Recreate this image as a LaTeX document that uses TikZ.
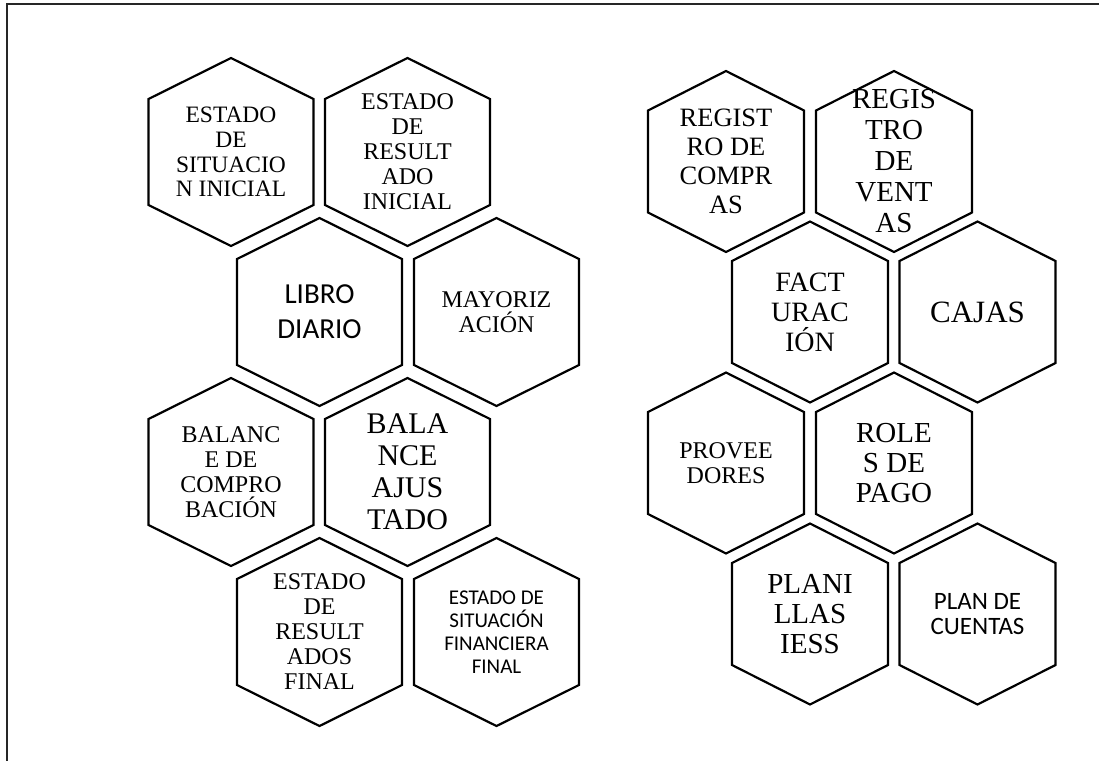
\documentclass[tikz,border=0pt]{standalone}
\usepackage{fontspec}
\setmainfont{Liberation Serif}
\newfontfamily\tnr{Liberation Serif}
\newfontfamily\cbr{Carlito}
\tikzset{
  hexline/.style={draw=black, line width=2.2pt, line join=miter},
  hextext/.style={align=center, inner sep=0pt, text=black},
}
% big hexagon (left block): half width 82.5, corner offset 53, half height 94
\newcommand{\hexA}[1]{%
  \draw[hexline] ([shift={(0,-94)}]#1.center) -- ([shift={(82.5,-53)}]#1.center)
    -- ([shift={(82.5,53)}]#1.center) -- ([shift={(0,94)}]#1.center)
    -- ([shift={(-82.5,53)}]#1.center) -- ([shift={(-82.5,-53)}]#1.center) -- cycle;}
% small hexagon (right block): half width 78, corner offset 51, half height 90.5
\newcommand{\hexB}[1]{%
  \draw[hexline] ([shift={(0,-90.5)}]#1.center) -- ([shift={(78,-51)}]#1.center)
    -- ([shift={(78,51)}]#1.center) -- ([shift={(0,90.5)}]#1.center)
    -- ([shift={(-78,51)}]#1.center) -- ([shift={(-78,-51)}]#1.center) -- cycle;}
\begin{document}
\begin{tikzpicture}[x=1pt,y=-1pt]
\useasboundingbox (0,0) rectangle (1099,760);
\draw[line width=1.4pt, draw=black!85] (7,4) rectangle (1120,790);

% left block
\node[hextext, font={\tnr\fontsize{23.5}{24.8}\selectfont}] (esi) at (231,152) {ESTADO\\DE\\SITUACIO\\N INICIAL};
\node[hextext, font={\tnr\fontsize{24}{25}\selectfont}] (eri) at (407.5,152) {ESTADO\\DE\\RESULT\\ADO\\INICIAL};
\node[hextext, font={\cbr\fontsize{29}{35}\selectfont}] (ld) at (319.5,312) {LIBRO\\DIARIO};
\node[hextext, font={\tnr\fontsize{24}{24.5}\selectfont}] (may) at (496.5,312) {MAYORIZ\\ACIÓN};
\node[hextext, font={\tnr\fontsize{24}{25}\selectfont}] (bc) at (231,472) {BALANC\\E DE\\COMPRO\\BACIÓN};
\node[hextext, font={\tnr\fontsize{30}{32}\selectfont}] (ba) at (407.5,472) {BALA\\NCE\\AJUS\\TADO};
\node[hextext, font={\tnr\fontsize{24}{25}\selectfont}] (erf) at (319.5,632) {ESTADO\\DE\\RESULT\\ADOS\\FINAL};
\node[hextext, font={\cbr\fontsize{21}{23}\selectfont}] (esf) at (496.5,632) {ESTADO DE\\SITUACIÓN\\FINANCIERA\\FINAL};
\hexA{esi}\hexA{eri}\hexA{ld}\hexA{may}\hexA{bc}\hexA{ba}\hexA{erf}\hexA{esf}

% right block
\node[hextext, font={\tnr\fontsize{26.5}{29}\selectfont}] (rc) at (726,161.5) {REGIST\\RO DE\\COMPR\\AS};
\node[hextext, font={\tnr\fontsize{29}{31}\selectfont}] (rv) at (894,161.5) {REGIS\\TRO\\DE\\VENT\\AS};
\node[hextext, font={\tnr\fontsize{28}{30}\selectfont}] (fac) at (810,312) {FACT\\URAC\\IÓN};
\node[hextext, font={\tnr\fontsize{31}{32}\selectfont}] (caj) at (977.5,312) {CAJAS};
\node[hextext, font={\tnr\fontsize{24}{24.5}\selectfont}] (prov) at (726,463) {PROVEE\\DORES};
\node[hextext, font={\tnr\fontsize{29}{30}\selectfont}] (rol) at (894,463) {ROLE\\S DE\\PAGO};
\node[hextext, font={\tnr\fontsize{29}{30}\selectfont}] (pla) at (810,614) {PLANI\\LLAS\\IESS};
\node[hextext, font={\cbr\fontsize{25}{25.5}\selectfont}] (pc) at (977.5,614) {PLAN DE\\CUENTAS};
\hexB{rc}\hexB{rv}\hexB{fac}\hexB{caj}\hexB{prov}\hexB{rol}\hexB{pla}\hexB{pc}
\end{tikzpicture}
\end{document}
